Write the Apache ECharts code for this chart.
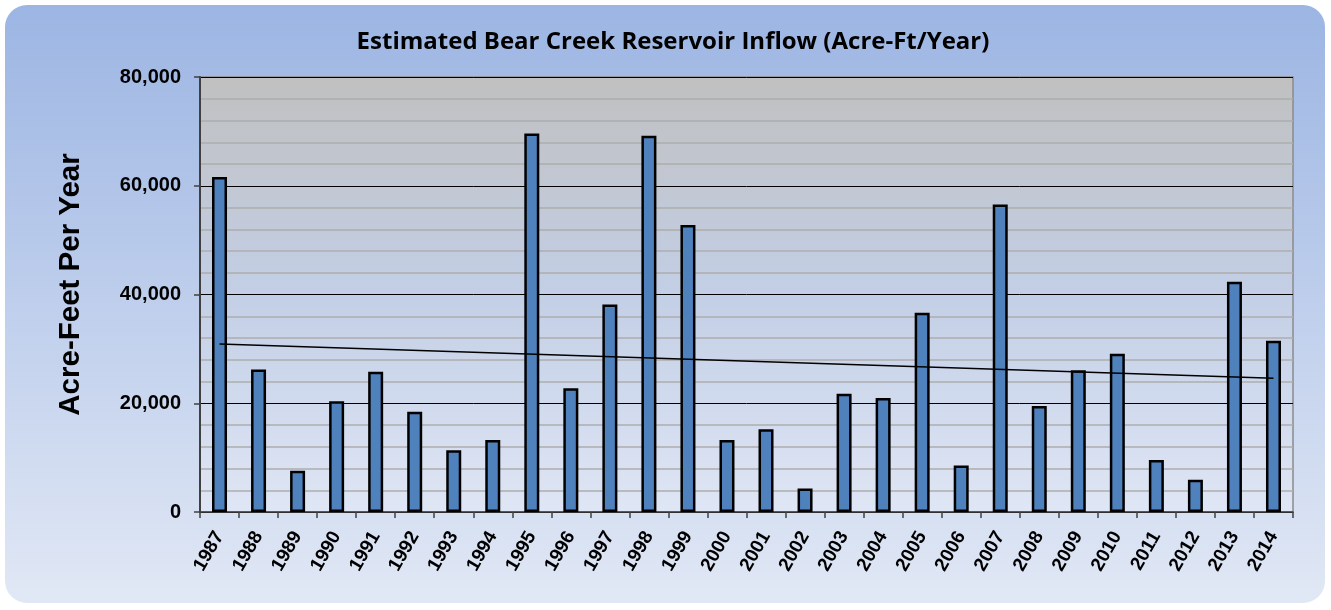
<!DOCTYPE html>
<html>
<head>
<meta charset="utf-8">
<title>Estimated Bear Creek Reservoir Inflow</title>
<script src="https://cdn.jsdelivr.net/npm/echarts@6/dist/echarts.min.js"></script>
<style>
  html, body { margin: 0; padding: 0; background: #fff; }
  #chart { width: 1331px; height: 610px; }
</style>
</head>
<body>
<div id="chart"></div>
<script>
// years on the x axis
const years = ['1987', '1988', '1989', '1990', '1991', '1992', '1993', '1994', '1995', '1996',
  '1997', '1998', '1999', '2000', '2001', '2002', '2003', '2004', '2005', '2006',
  '2007', '2008', '2009', '2010', '2011', '2012', '2013', '2014']

// estimated inflow, acre-ft per year
const inflow = [61600, 26200, 7600, 20350, 25800, 18450, 11350, 13250, 69600, 22750,
  38150, 69200, 52800, 13250, 15200, 4300, 21750, 20950, 36650, 8550,
  56550, 19500, 26050, 29100, 9550, 5950, 42350, 31500]

// linear trend line, read at first and last year
const trendStart = 30900
const trendEnd = 24600

const yTicks = { min: 0, max: 80000, interval: 20000 }

const trend = years.map((y, i) => (i === 0 ? trendStart : (i === years.length - 1 ? trendEnd : null)))

const chart = echarts.init(document.getElementById('chart'))

const option = {
  animation: false,
  graphic: [{
    type: 'rect',
    z: -10,
    silent: true,
    shape: { x: 5, y: 5, width: 1320, height: 598, r: 22 },
    style: {
      fill: new echarts.graphic.LinearGradient(0, 0, 0, 1, [
        { offset: 0, color: '#9cb5e3' },
        { offset: 1, color: '#e1e8f5' }
      ])
    }
  }],
  title: {
    text: 'Estimated Bear Creek Reservoir Inflow (Acre-Ft/Year)',
    left: 668,
    textAlign: 'center',
    top: 25,
    textStyle: {
      fontFamily: 'Open Sans',
      fontWeight: 'bold',
      fontSize: 24,
      color: '#000'
    }
  },
  grid: {
    left: 200,
    right: 38,
    top: 77,
    bottom: 98,
    show: true,
    borderColor: '#8a8a8a',
    borderWidth: 1.5,
    backgroundColor: new echarts.graphic.LinearGradient(0, 0, 0, 1, [
      { offset: 0, color: '#c0c0c0' },
      { offset: 0.5, color: '#c3cfe6' },
      { offset: 1, color: '#dfe6f5' }
    ])
  },
  xAxis: {
    type: 'category',
    data: years,
    axisLine: { lineStyle: { color: '#404040', width: 1.5 } },
    axisTick: { show: true, length: 6, lineStyle: { color: '#404040', width: 1.5 } },
    axisLabel: {
      interval: 0,
      rotate: 60,
      margin: 21,
      color: '#000',
      fontFamily: 'Liberation Sans',
      fontWeight: 'bold',
      fontSize: 19
    }
  },
  yAxis: {
    type: 'value',
    min: yTicks.min,
    max: yTicks.max,
    interval: yTicks.interval,
    name: 'Acre-Feet Per Year',
    nameLocation: 'middle',
    nameGap: 114,
    nameTextStyle: {
      fontFamily: 'Liberation Sans',
      fontWeight: 'bold',
      fontSize: 29.5,
      color: '#000',
      padding: [0, 0, 0, 20]
    },
    axisLine: { show: true, lineStyle: { color: '#404040', width: 2 } },
    axisTick: { show: true, length: 6, lineStyle: { color: '#404040', width: 1.5 } },
    axisLabel: {
      margin: 19,
      color: '#000',
      fontFamily: 'Liberation Sans',
      fontWeight: 'bold',
      fontSize: 20,
      formatter: v => v.toLocaleString('en-US')
    },
    splitLine: { lineStyle: { color: '#000', width: 1 } },
    minorTick: { show: false, splitNumber: 5 },
    minorSplitLine: { show: true, lineStyle: { color: '#adadad', width: 1.5 } }
  },
  series: [
    {
      type: 'bar',
      data: inflow,
      barWidth: 15,
      itemStyle: {
        color: '#4f81bd',
        borderColor: '#000',
        borderWidth: 2.5
      }
    },
    {
      type: 'line',
      data: trend,
      connectNulls: true,
      symbol: 'none',
      z: 5,
      lineStyle: { color: '#000', width: 1.5 }
    }
  ]
}

chart.setOption(option)
</script>
</body>
</html>
